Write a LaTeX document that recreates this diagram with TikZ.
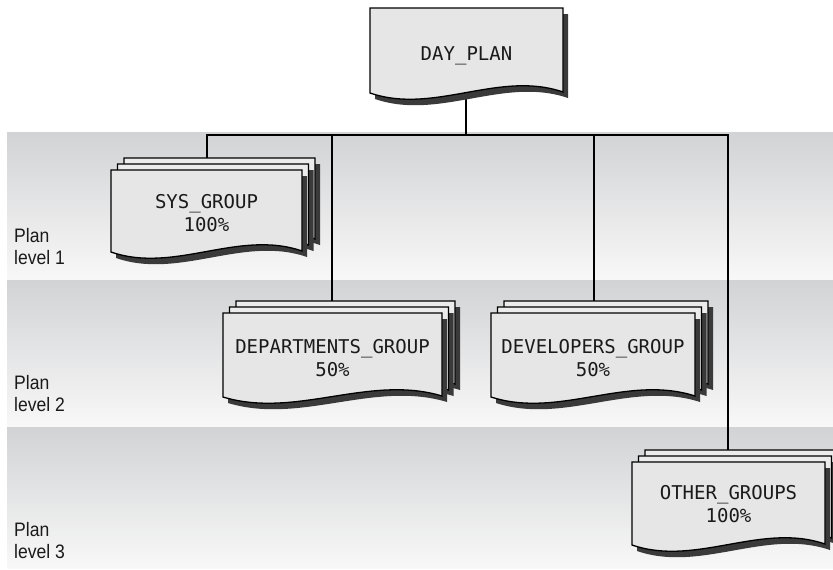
\documentclass[tikz,border=0pt]{standalone}
\usepackage{fontspec}
\newfontfamily\boxfont{DejaVu Sans Mono}
\newfontfamily\lblfont[FakeStretch=0.9]{Liberation Sans}
\definecolor{shc}{HTML}{3A3A3A}
\definecolor{sheetfill}{HTML}{E6E6E6}
\definecolor{backfill}{HTML}{ECECEC}
\definecolor{bandtop}{HTML}{D2D3D5}
\definecolor{bandbot}{HTML}{F8F8F8}
\definecolor{txt}{HTML}{1A1A1A}
\tikzset{
  sheetline/.style={draw=black, line width=1.3pt, line join=miter},
  conn/.style={draw=black, line width=1.6pt},
  band/.style={top color=bandtop, bottom color=bandbot, draw=none},
  boxtext/.style={inner sep=0pt, align=center, text=txt, font={\boxfont\fontsize{19}{23}\selectfont}},
  lvltext/.style={inner sep=0pt, align=left, anchor=south west, text=txt, font={\lblfont\fontsize{19.5}{22}\selectfont}}
}
% one sheet: x1, x2, top, bottom-left y, fill
\newcommand\onesheet[5]{%
  \fill[shc] ({(#1)+5},{(#3)+6}) -- ({(#2)+5},{(#3)+6}) -- ({(#2)+5},{(#4)+5})
    .. controls ({(#1)+5+0.667*((#2)-(#1))},{(#4)+6-23}) and ({(#1)+5+0.333*((#2)-(#1))},{(#4)+6+22}) .. ({(#1)+5},{(#4)+6}) -- cycle;
  \path[sheetline, fill=#5] ({#1},{#3}) -- ({#2},{#3}) -- ({#2},{(#4)-1})
    .. controls ({(#1)+0.667*((#2)-(#1))},{(#4)-23}) and ({(#1)+0.333*((#2)-(#1))},{(#4)+22}) .. ({#1},{#4}) -- cycle;}
% stack of three sheets given the front sheet
\newcommand\sheetstack[4]{%
  \onesheet{(#1)+13}{(#2)+13}{(#3)-12}{(#4)-12}{backfill}%
  \onesheet{(#1)+6.5}{(#2)+6.5}{(#3)-6}{(#4)-6}{backfill}%
  \onesheet{#1}{#2}{#3}{#4}{sheetfill}}
\begin{document}
\begin{tikzpicture}[x=1pt, y=-1pt]
\useasboundingbox (0,0) rectangle (833,570);
\fill[white] (0,0) rectangle (833,570);
% bands
\path[band] (7,132) rectangle (833,280);
\path[band] (7,280) rectangle (833,427);
\path[band] (7,427) rectangle (833,568);
% level labels
\node[lvltext] (lbl1) at (14,265) {Plan\\level 1};
\node[lvltext] (lbl2) at (14,412) {Plan\\level 2};
\node[lvltext] (lbl3) at (14,559) {Plan\\level 3};
% connector points
\coordinate (dayStem) at (466,98);
\coordinate (junction) at (466,135);
\coordinate (sysJ) at (207,135);
\coordinate (sysIn) at (207,158);
\coordinate (deptJ) at (332,135);
\coordinate (deptIn) at (332,301);
\coordinate (devJ) at (594,135);
\coordinate (devIn) at (594,301);
\coordinate (othJ) at (728,135);
\coordinate (othIn) at (728,450);
\draw[conn] (dayStem) -- (junction);
\draw[conn, line join=miter] (sysIn) -- (sysJ) -- (othJ) -- (othIn);
\draw[conn] (deptJ) -- (deptIn);
\draw[conn] (devJ) -- (devIn);
% boxes
\onesheet{370}{563}{8}{93}{sheetfill}
\sheetstack{111}{302}{170}{252}
\sheetstack{223}{442}{313}{397}
\sheetstack{491}{695}{313}{397}
\sheetstack{632}{825}{462}{545}
% texts
\node[boxtext, anchor=base] (day) at (466.5,60) {DAY\_PLAN};
\node[boxtext, anchor=south] (sys) at (206.5,232) {SYS\_GROUP\\100\%};
\node[boxtext, anchor=south] (dept) at (332.5,377) {DEPARTMENTS\_GROUP\\50\%};
\node[boxtext, anchor=south] (dev) at (593,377) {DEVELOPERS\_GROUP\\50\%};
\node[boxtext, anchor=south] (other) at (728.5,523) {OTHER\_GROUPS\\100\%};
\end{tikzpicture}
\end{document}
